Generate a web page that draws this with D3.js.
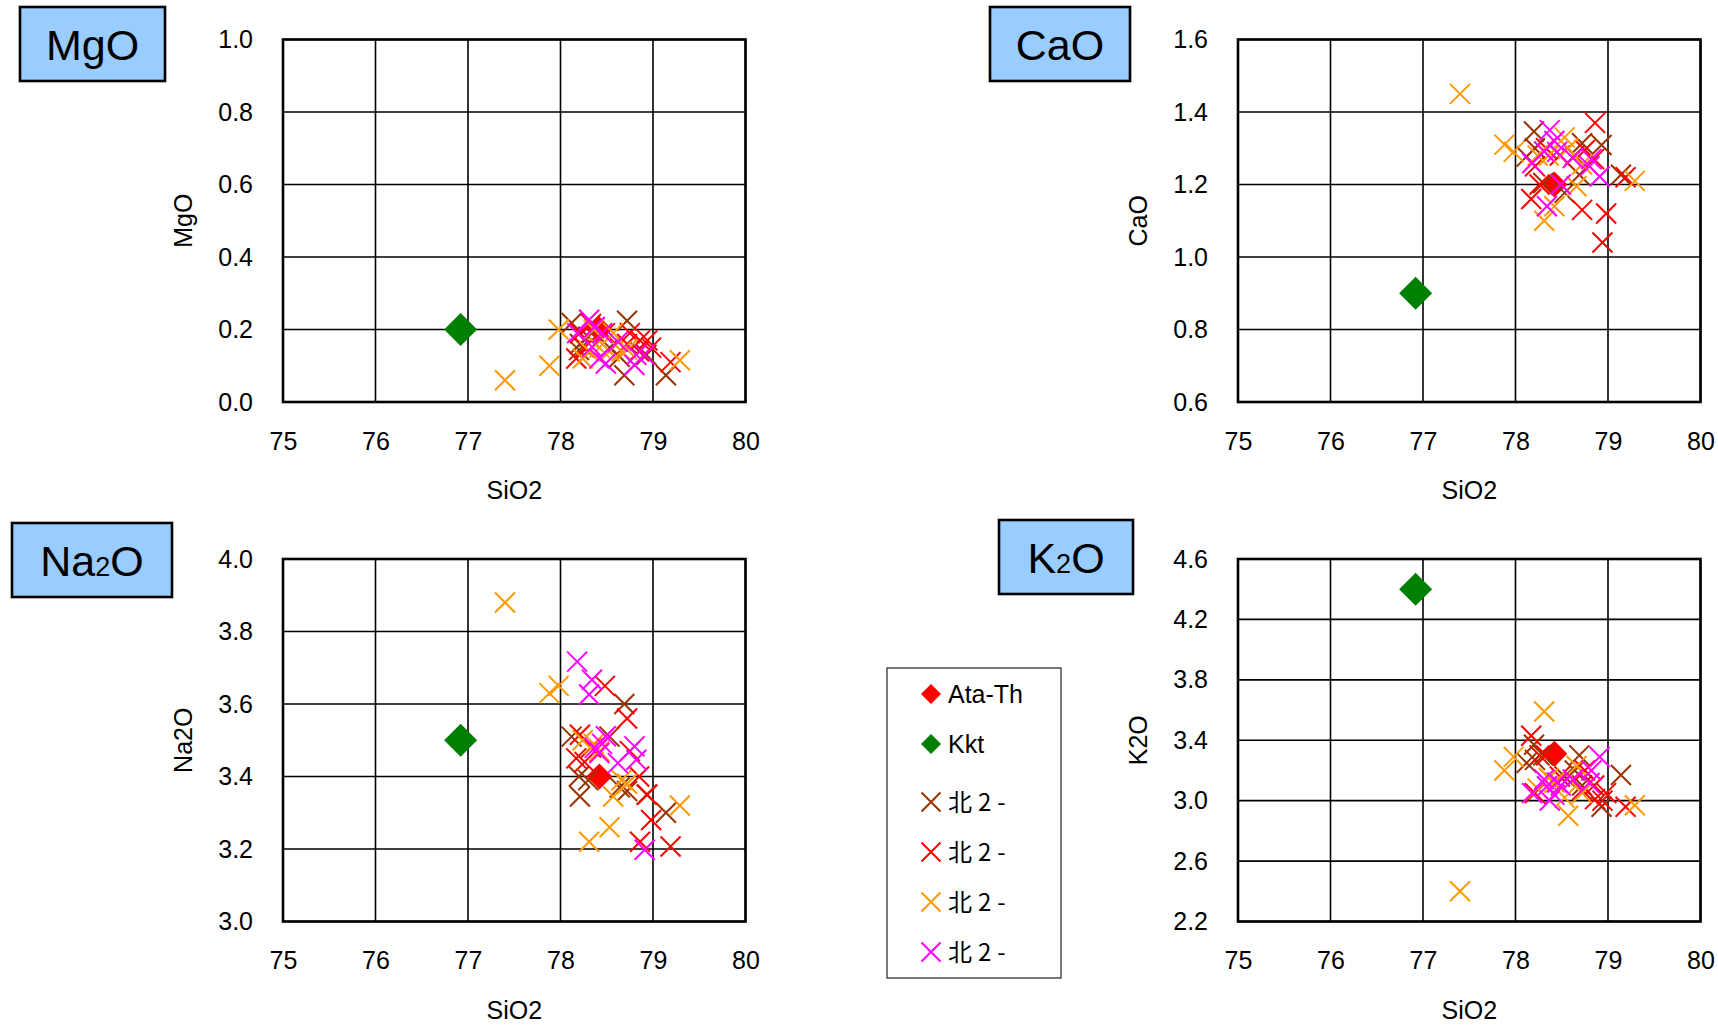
<!DOCTYPE html>
<meta charset="utf-8">
<head>
  <script src="https://d3js.org/d3.v7.min.js"></script>
</head>
<style>

body {
  margin: 0;
  background: #fff;
}

text {
  font-family: "Liberation Sans", Arial, sans-serif;
  fill: #000;
}

.tick-label {
  font-size: 25px;
}

.axis-title {
  font-size: 25px;
}

.panel-title {
  font-size: 43px;
}

.legend-label {
  font-size: 25px;
}

.legend-jp {
  font-family: "Noto Sans CJK JP", sans-serif;
  font-size: 24px;
  letter-spacing: 6px;
}

</style>

<body>
<svg width="1718" height="1025" id="container"></svg>
<script>

// x axis is shared by all four panels
var sio2Domain = [75, 80];
var sio2Ticks = [75, 76, 77, 78, 79, 80];

// reference points (diamonds)
var ataTh = {sio2: 78.42, mgo: 0.20, cao: 1.20, na2o: 3.40, k2o: 3.31};
var kkt   = {sio2: 76.92, mgo: 0.20, cao: 0.90, na2o: 3.50, k2o: 4.40};

// 北2- series 1 (brown)
var brownSiO2 = [78.12, 78.20, 78.21, 78.30, 78.53, 78.69, 78.72, 78.93, 79.14, 78.64];
var brownMgO  = [0.218, 0.143, 0.160, 0.180, 0.150, 0.074, 0.224, 0.130, 0.074, 0.125];
var brownCaO  = [1.277, 1.346, 1.300, 1.204, 1.177, 1.227, 1.314, 1.309, 1.227, 1.280];
var brownNa2O = [3.51, 3.40, 3.345, 3.39, 3.51, 3.60, 3.36, 3.35, 3.30, 3.37];
var brownK2O  = [3.25, 3.37, 3.27, 3.30, 3.16, 3.30, 3.10, 2.96, 3.17, 3.20];

// 北2- series 2 (red)
var redSiO2 = [78.17, 78.21, 78.33, 78.48, 78.72, 78.75, 78.85, 78.86, 78.94, 78.98, 79.19, 78.26];
var redMgO  = [0.120, 0.190, 0.215, 0.190, 0.160, 0.190, 0.140, 0.170, 0.170, 0.150, 0.110, 0.150];
var redCaO  = [1.16, 1.25, 1.30, 1.28, 1.13, 1.295, 1.27, 1.37, 1.04, 1.12, 1.22, 1.20];
var redNa2O = [3.45, 3.515, 3.48, 3.65, 3.56, 3.47, 3.40, 3.22, 3.35, 3.28, 3.207, 3.44];
var redK2O  = [3.43, 3.05, 3.30, 3.16, 3.07, 3.20, 3.10, 3.01, 3.00, 3.05, 2.96, 3.30];

// 北2- series 3 (orange)
var orangeSiO2 = [77.40, 77.88, 77.98, 78.24, 78.31, 78.42, 78.53, 78.57, 78.66, 78.72, 79.29, 78.36];
var orangeMgO  = [0.06, 0.10, 0.20, 0.12, 0.14, 0.15, 0.14, 0.19, 0.14, 0.145, 0.115, 0.20];
var orangeCaO  = [1.45, 1.31, 1.29, 1.28, 1.10, 1.14, 1.33, 1.30, 1.195, 1.255, 1.21, 1.28];
var orangeNa2O = [3.88, 3.63, 3.65, 3.50, 3.22, 3.47, 3.26, 3.345, 3.39, 3.38, 3.32, 3.49];
var orangeK2O  = [2.40, 3.20, 3.29, 3.08, 3.59, 3.12, 3.02, 2.90, 3.23, 3.05, 2.97, 3.15];

// 北2- series 4 (magenta)
var magentaSiO2 = [78.18, 78.31, 78.34, 78.37, 78.42, 78.49, 78.62, 78.80, 78.82, 78.91, 78.45];
var magentaMgO  = [0.190, 0.227, 0.152, 0.207, 0.120, 0.106, 0.166, 0.102, 0.130, 0.130, 0.190];
var magentaCaO  = [1.259, 1.291, 1.140, 1.350, 1.320, 1.200, 1.273, 1.250, 1.270, 1.222, 1.290];
var magentaNa2O = [3.717, 3.626, 3.667, 3.479, 3.465, 3.511, 3.437, 3.483, 3.446, 3.198, 3.49];
var magentaK2O  = [3.05, 3.14, 3.095, 3.00, 3.04, 3.10, 3.14, 3.117, 3.20, 3.29, 3.12];

var legendLabels = ['Ata-Th', 'Kkt', '北2-', '北2-', '北2-', '北2-'];

var svg = d3.select('#container');

var crossSeries = [
  {color: '#993300', sio2: brownSiO2,   mgo: brownMgO,   cao: brownCaO,   na2o: brownNa2O,   k2o: brownK2O},
  {color: '#FF0000', sio2: redSiO2,     mgo: redMgO,     cao: redCaO,     na2o: redNa2O,     k2o: redK2O},
  {color: '#FF9900', sio2: orangeSiO2,  mgo: orangeMgO,  cao: orangeCaO,  na2o: orangeNa2O,  k2o: orangeK2O},
  {color: '#FF00FF', sio2: magentaSiO2, mgo: magentaMgO, cao: magentaCaO, na2o: magentaNa2O, k2o: magentaK2O}
];

var panels = [
  {key: 'mgo',  title: ['MgO'],           yLabel: 'MgO',  domain: [0, 1.0],   ticks: [0, 0.2, 0.4, 0.6, 0.8, 1.0],
   left: 283,  top: 39.5, box: {x: 20,  y: 7,   w: 145, h: 74}},
  {key: 'cao',  title: ['CaO'],           yLabel: 'CaO',  domain: [0.6, 1.6], ticks: [0.6, 0.8, 1.0, 1.2, 1.4, 1.6],
   left: 1238, top: 39.5, box: {x: 990, y: 7,   w: 140, h: 74}},
  {key: 'na2o', title: ['Na', '2', 'O'],  yLabel: 'Na2O', domain: [3.0, 4.0], ticks: [3.0, 3.2, 3.4, 3.6, 3.8, 4.0],
   left: 283,  top: 559,  box: {x: 12,  y: 523, w: 160, h: 74}},
  {key: 'k2o',  title: ['K', '2', 'O'],   yLabel: 'K2O',  domain: [2.2, 4.6], ticks: [2.2, 2.6, 3.0, 3.4, 3.8, 4.2, 4.6],
   left: 1238, top: 559,  box: {x: 999, y: 520, w: 134, h: 74}}
];

var plotWidth = 462.5,
    plotHeight = 362.5,
    crossSize = 10;

function diamondPath(r) {
  return 'M0,' + (-r) + 'L' + r + ',0L0,' + r + 'L' + (-r) + ',0Z';
}

function crossPath(r) {
  return 'M' + (-r) + ',' + (-r) + 'L' + r + ',' + r + 'M' + (-r) + ',' + r + 'L' + r + ',' + (-r);
}

panels.forEach(function(p) {
  var xScale = d3.scaleLinear().domain(sio2Domain).range([p.left, p.left + plotWidth]);
  var yScale = d3.scaleLinear().domain(p.domain).range([p.top + plotHeight, p.top]);
  var g = svg.append('g');

  // grid
  g.selectAll('.vgrid')
   .data(sio2Ticks)
   .enter().append('line')
   .attr('x1', function(d) { return xScale(d); })
   .attr('x2', function(d) { return xScale(d); })
   .attr('y1', p.top)
   .attr('y2', p.top + plotHeight)
   .attr('stroke', '#000')
   .attr('stroke-width', 1.6);

  g.selectAll('.hgrid')
   .data(p.ticks)
   .enter().append('line')
   .attr('x1', p.left)
   .attr('x2', p.left + plotWidth)
   .attr('y1', function(d) { return yScale(d); })
   .attr('y2', function(d) { return yScale(d); })
   .attr('stroke', '#000')
   .attr('stroke-width', 1.6);

  g.append('rect')
   .attr('x', p.left)
   .attr('y', p.top)
   .attr('width', plotWidth)
   .attr('height', plotHeight)
   .attr('fill', 'none')
   .attr('stroke', '#000')
   .attr('stroke-width', 2.6);

  // axes via d3 axis, only labels kept
  var xAxis = g.append('g')
   .attr('transform', 'translate(0,' + (p.top + plotHeight) + ')')
   .call(d3.axisBottom(xScale).tickValues(sio2Ticks).tickSize(0).tickPadding(30).tickFormat(d3.format('d')));
  xAxis.select('.domain').remove();
  xAxis.selectAll('text').attr('class', 'tick-label');

  var yAxis = g.append('g')
   .attr('transform', 'translate(' + p.left + ',0)')
   .call(d3.axisLeft(yScale).tickValues(p.ticks).tickSize(0).tickPadding(30).tickFormat(d3.format('.1f')));
  yAxis.select('.domain').remove();
  yAxis.selectAll('text').attr('class', 'tick-label');
  xAxis.attr('font-size', null).attr('font-family', null);
  yAxis.attr('font-size', null).attr('font-family', null);

  // axis titles
  g.append('text')
   .attr('class', 'axis-title')
   .attr('x', p.left + plotWidth / 2)
   .attr('y', p.top + plotHeight + 97)
   .attr('text-anchor', 'middle')
   .text('SiO2');

  g.append('text')
   .attr('class', 'axis-title')
   .attr('transform', 'translate(' + (p.left - 91) + ',' + (p.top + plotHeight / 2) + ') rotate(-90)')
   .attr('text-anchor', 'middle')
   .text(p.yLabel);

  // title box
  g.append('rect')
   .attr('x', p.box.x)
   .attr('y', p.box.y)
   .attr('width', p.box.w)
   .attr('height', p.box.h)
   .attr('fill', '#99CCFF')
   .attr('stroke', '#000')
   .attr('stroke-width', 2.6);

  var title = g.append('text')
   .attr('class', 'panel-title')
   .attr('x', p.box.x + p.box.w / 2)
   .attr('y', p.box.y + p.box.h / 2 + 16)
   .attr('text-anchor', 'middle');
  p.title.forEach(function(part, i) {
    title.append('tspan')
         .attr('font-size', i == 1 ? '27px' : null)
         .text(part);
  });

  // diamonds
  g.append('path')
   .attr('d', diamondPath(16.5))
   .attr('fill', '#008000')
   .attr('transform', 'translate(' + xScale(kkt.sio2) + ',' + yScale(kkt[p.key]) + ')');

  g.append('path')
   .attr('d', diamondPath(13))
   .attr('fill', '#FF0000')
   .attr('transform', 'translate(' + xScale(ataTh.sio2) + ',' + yScale(ataTh[p.key]) + ')');

  // crosses
  crossSeries.forEach(function(s) {
    g.selectAll(null)
     .data(s.sio2.map(function(v, i) { return [v, s[p.key][i]]; }))
     .enter().append('path')
     .attr('d', crossPath(crossSize))
     .attr('fill', 'none')
     .attr('stroke', s.color)
     .attr('stroke-width', 2)
     .attr('transform', function(d) { return 'translate(' + xScale(d[0]) + ',' + yScale(d[1]) + ')'; });
  });
});

// legend
var legend = svg.append('g');
legend.append('rect')
      .attr('x', 887)
      .attr('y', 668)
      .attr('width', 174)
      .attr('height', 310)
      .attr('fill', '#fff')
      .attr('stroke', '#222')
      .attr('stroke-width', 1.2);

var legendY = [694, 744, 802, 852, 902, 952];
var legendColors = ['#FF0000', '#008000'].concat(crossSeries.map(function(s) { return s.color; }));

legendLabels.forEach(function(label, i) {
  var item = legend.append('g').attr('transform', 'translate(931,' + legendY[i] + ')');
  if (i < 2) {
    item.append('path').attr('d', diamondPath(10)).attr('fill', legendColors[i]);
  } else {
    item.append('path').attr('d', crossPath(9.5))
        .attr('fill', 'none').attr('stroke', legendColors[i]).attr('stroke-width', 2);
  }
  item.append('text')
      .attr('class', i < 2 ? 'legend-label' : 'legend-label legend-jp')
      .attr('x', 17)
      .attr('y', 9)
      .text(label);
});

</script>
</body>
